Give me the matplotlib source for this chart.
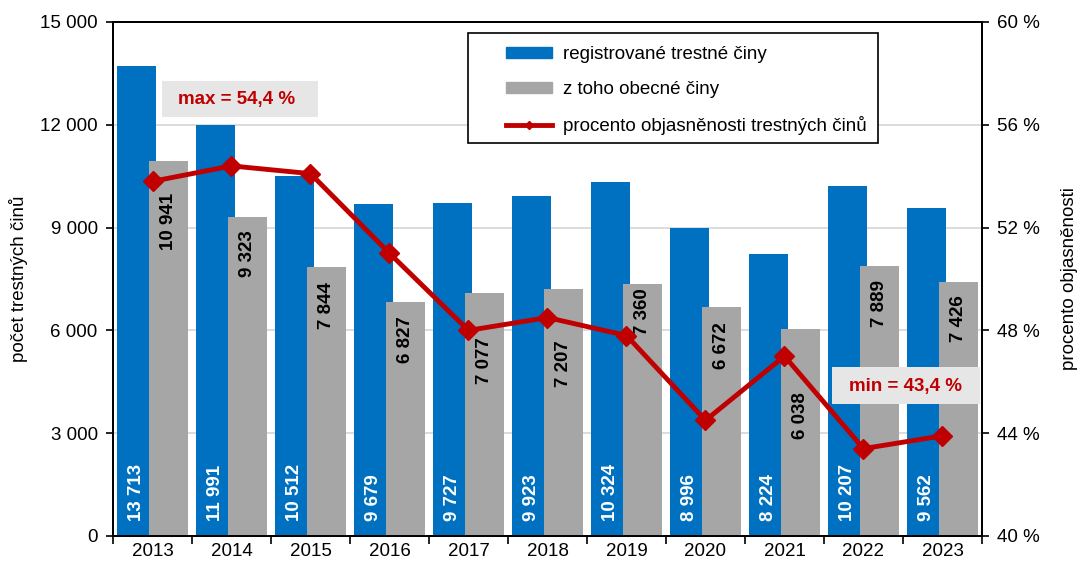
import matplotlib
matplotlib.use('Agg')
import matplotlib.pyplot as plt
import numpy as np
from matplotlib.lines import Line2D
from matplotlib.patches import Patch, Rectangle
from matplotlib.ticker import FuncFormatter

plt.rcParams['font.family'] = ['Liberation Sans', 'DejaVu Sans']
plt.rcParams['font.size'] = 13.5

years = ['2013', '2014', '2015', '2016', '2017', '2018', '2019', '2020', '2021', '2022', '2023']
registered = [13713, 11991, 10512, 9679, 9727, 9923, 10324, 8996, 8224, 10207, 9562]
general = [10941, 9323, 7844, 6827, 7077, 7207, 7360, 6672, 6038, 7889, 7426]
clearance = [53.8, 54.4, 54.1, 51.0, 48.0, 48.5, 47.8, 44.5, 47.0, 43.4, 43.9]

BLUE = '#0070C0'
GREY = '#A6A6A6'
RED = '#C00000'


def thousands(v, pos=None):
    return f'{int(round(v)):,}'.replace(',', ' ')


fig = plt.figure(figsize=(10.84, 5.64), dpi=100)
ax = fig.add_axes([113 / 1084, 1 - 536 / 564, 869 / 1084, 514 / 564])
x = np.arange(len(years))

ax.bar(x - 0.2, registered, width=0.49, color=BLUE, zorder=2)
ax.bar(x + 0.2, general, width=0.49, color=GREY, zorder=3)

ax.set_xlim(-0.5, len(years) - 0.5)
ax.set_ylim(0, 15000)
ax.set_yticks(np.arange(0, 15001, 3000))
ax.yaxis.set_major_formatter(FuncFormatter(thousands))
ax.yaxis.grid(True, color='#D9D9D9', lw=1.3)
ax.set_axisbelow(True)

# ticks between categories, labels in the middle
ax.set_xticks(np.arange(-0.5, len(years), 1.0))
ax.set_xticklabels([])
ax.set_xticks(x, minor=True)
ax.set_xticklabels(years, minor=True)
ax.tick_params(axis='x', which='major', length=6, width=1.2)
ax.tick_params(axis='x', which='minor', length=0, pad=5)
ax.tick_params(axis='y', length=5, width=1.2, pad=6)
for s in ax.spines.values():
    s.set_linewidth(1.4)
ax.set_ylabel('počet trestných činů', labelpad=9)

# bar value labels
for xi, v in zip(x, registered):
    ax.annotate(thousands(v), (xi - 0.2, 0), xytext=(0, 11), textcoords='offset points',
                rotation=90, ha='center', va='bottom', color='white',
                fontweight='bold', zorder=5)
shift = [32, 14, 15, 14, 44, 51, 4, 15, 63, 14, 14]  # px below bar top
for xi, v, s in zip(x, general, shift):
    ax.annotate(thousands(v), (xi + 0.2, v), xytext=(0, -s * 0.72), textcoords='offset points',
                rotation=90, ha='center', va='top', color='black',
                fontweight='bold', zorder=5)

ax2 = ax.twinx()
ax2.plot(x, clearance, color=RED, lw=3.5, marker='D', markersize=10, zorder=4)
ax2.set_ylim(40, 60)
ax2.set_yticks(np.arange(40, 61, 4))
ax2.yaxis.set_major_formatter(FuncFormatter(lambda v, p: f'{int(v)} %'))
ax2.tick_params(axis='y', length=5, width=1.2, pad=6)
for s in ax2.spines.values():
    s.set_linewidth(1.4)
ax2.set_ylabel('procento objasněnosti', labelpad=15)

# max / min boxes
ax2.add_patch(Rectangle((0.0564, 0.815), 0.18, 0.07, transform=ax2.transAxes,
                        facecolor='#E6E6E6', edgecolor='none', zorder=6))
ax2.text(0.1427, 0.850, 'max = 54,4 %', transform=ax2.transAxes, ha='center', va='center',
         color=RED, fontweight='bold', zorder=7)
ax2.add_patch(Rectangle((0.827, 0.257), 0.171, 0.072, transform=ax2.transAxes,
                        facecolor='#E6E6E6', edgecolor='none', zorder=6))
ax2.text(0.9125, 0.290, 'min = 43,4 %', transform=ax2.transAxes, ha='center', va='center',
         color=RED, fontweight='bold', zorder=7)

# legend with own frame
fig.add_artist(Rectangle((468 / 1084, 1 - 143 / 564), 410 / 1084, 110 / 564,
                         transform=fig.transFigure, facecolor='white',
                         edgecolor='black', lw=1.2, zorder=8))
handles = [Patch(color=BLUE), Patch(color=GREY),
           Line2D([], [], color=RED, lw=3.5, marker='D', markersize=4)]
labels = ['registrované trestné činy', 'z toho obecné činy',
          'procento objasněnosti trestných činů']
leg = fig.legend(handles, labels, loc='upper left', bbox_to_anchor=(497 / 1084, 1 - 37 / 564),
                 frameon=False, borderpad=0, handlelength=2.45, handleheight=0.5,
                 handletextpad=0.55, labelspacing=0.95)
leg.set_zorder(9)

fig.savefig('out.png', dpi=100)
